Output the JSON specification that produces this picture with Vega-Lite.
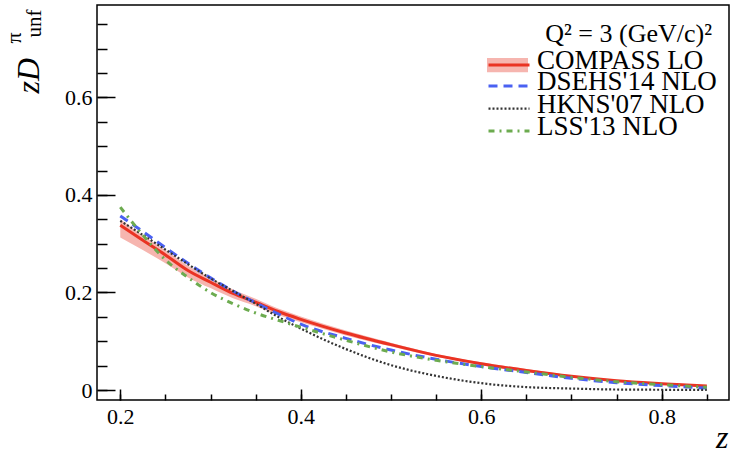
{
  "$schema": "https://vega.github.io/schema/vega-lite/v6.json",
  "width": 632,
  "height": 395,
  "autosize": "none",
  "padding": {"left": 97, "top": 5, "right": 10, "bottom": 57},
  "background": "white",
  "config": {
    "view": {"stroke": "black", "strokeWidth": 1.5},
    "font": "Liberation Serif, serif",
    "axis": {"grid": false, "domain": false, "tickColor": "black", "tickWidth": 1.5, "labelFont": "Liberation Serif, serif", "labelColor": "black", "labelFontSize": 22, "titleFont": "Liberation Serif, serif", "titleColor": "black", "titleFontWeight": "normal"},
    "legend": {"orient": "none", "legendX": 390, "title": null, "padding": 0, "clipHeight": 22, "symbolSize": 1681, "symbolStrokeWidth": 3, "labelFontSize": 27, "labelOffset": 6, "labelFont": "Liberation Serif, serif", "labelColor": "black", "labelLimit": 400}
  },
  "title": {"text": "Q² = 3 (GeV/c)²", "anchor": "end", "frame": "group", "orient": "top", "fontSize": 26, "font": "Liberation Serif, serif", "fontWeight": "normal", "color": "black", "baseline": "alphabetic", "offset": 0, "dx": -17, "dy": 63},
  "datasets": {
    "band": [
      {"z": 0.2, "lo": 0.313, "hi": 0.350},
      {"z": 0.225, "lo": 0.287, "hi": 0.317},
      {"z": 0.25, "lo": 0.260, "hi": 0.287},
      {"z": 0.275, "lo": 0.231, "hi": 0.255},
      {"z": 0.3, "lo": 0.209, "hi": 0.230},
      {"z": 0.325, "lo": 0.188, "hi": 0.206},
      {"z": 0.35, "lo": 0.172, "hi": 0.187},
      {"z": 0.375, "lo": 0.154, "hi": 0.167},
      {"z": 0.4, "lo": 0.139, "hi": 0.151},
      {"z": 0.45, "lo": 0.112, "hi": 0.122},
      {"z": 0.5, "lo": 0.089, "hi": 0.097},
      {"z": 0.55, "lo": 0.068, "hi": 0.074},
      {"z": 0.6, "lo": 0.051, "hi": 0.057},
      {"z": 0.65, "lo": 0.037, "hi": 0.043},
      {"z": 0.7, "lo": 0.026, "hi": 0.030},
      {"z": 0.75, "lo": 0.017, "hi": 0.021},
      {"z": 0.8, "lo": 0.011, "hi": 0.015},
      {"z": 0.85, "lo": 0.006, "hi": 0.010}
    ],
    "curves": [
      {"series": "COMPASS LO", "z": 0.2, "v": 0.338},
      {"series": "COMPASS LO", "z": 0.225, "v": 0.307},
      {"series": "COMPASS LO", "z": 0.25, "v": 0.277},
      {"series": "COMPASS LO", "z": 0.275, "v": 0.245},
      {"series": "COMPASS LO", "z": 0.3, "v": 0.221},
      {"series": "COMPASS LO", "z": 0.325, "v": 0.198},
      {"series": "COMPASS LO", "z": 0.35, "v": 0.180},
      {"series": "COMPASS LO", "z": 0.375, "v": 0.161},
      {"series": "COMPASS LO", "z": 0.4, "v": 0.145},
      {"series": "COMPASS LO", "z": 0.45, "v": 0.117},
      {"series": "COMPASS LO", "z": 0.5, "v": 0.093},
      {"series": "COMPASS LO", "z": 0.55, "v": 0.071},
      {"series": "COMPASS LO", "z": 0.6, "v": 0.054},
      {"series": "COMPASS LO", "z": 0.65, "v": 0.040},
      {"series": "COMPASS LO", "z": 0.7, "v": 0.028},
      {"series": "COMPASS LO", "z": 0.75, "v": 0.019},
      {"series": "COMPASS LO", "z": 0.8, "v": 0.013},
      {"series": "COMPASS LO", "z": 0.85, "v": 0.008},
      {"series": "DSEHS'14 NLO", "z": 0.2, "v": 0.357},
      {"series": "DSEHS'14 NLO", "z": 0.225, "v": 0.325},
      {"series": "DSEHS'14 NLO", "z": 0.25, "v": 0.292},
      {"series": "DSEHS'14 NLO", "z": 0.275, "v": 0.260},
      {"series": "DSEHS'14 NLO", "z": 0.3, "v": 0.230},
      {"series": "DSEHS'14 NLO", "z": 0.325, "v": 0.203},
      {"series": "DSEHS'14 NLO", "z": 0.35, "v": 0.179},
      {"series": "DSEHS'14 NLO", "z": 0.375, "v": 0.156},
      {"series": "DSEHS'14 NLO", "z": 0.4, "v": 0.135},
      {"series": "DSEHS'14 NLO", "z": 0.45, "v": 0.106},
      {"series": "DSEHS'14 NLO", "z": 0.5, "v": 0.082},
      {"series": "DSEHS'14 NLO", "z": 0.55, "v": 0.063},
      {"series": "DSEHS'14 NLO", "z": 0.6, "v": 0.048},
      {"series": "DSEHS'14 NLO", "z": 0.65, "v": 0.036},
      {"series": "DSEHS'14 NLO", "z": 0.7, "v": 0.024},
      {"series": "DSEHS'14 NLO", "z": 0.75, "v": 0.015},
      {"series": "DSEHS'14 NLO", "z": 0.8, "v": 0.009},
      {"series": "DSEHS'14 NLO", "z": 0.85, "v": 0.004},
      {"series": "HKNS'07 NLO", "z": 0.2, "v": 0.347},
      {"series": "HKNS'07 NLO", "z": 0.225, "v": 0.318},
      {"series": "HKNS'07 NLO", "z": 0.25, "v": 0.288},
      {"series": "HKNS'07 NLO", "z": 0.275, "v": 0.258},
      {"series": "HKNS'07 NLO", "z": 0.3, "v": 0.229},
      {"series": "HKNS'07 NLO", "z": 0.325, "v": 0.203},
      {"series": "HKNS'07 NLO", "z": 0.35, "v": 0.177},
      {"series": "HKNS'07 NLO", "z": 0.375, "v": 0.150},
      {"series": "HKNS'07 NLO", "z": 0.4, "v": 0.126},
      {"series": "HKNS'07 NLO", "z": 0.45, "v": 0.084},
      {"series": "HKNS'07 NLO", "z": 0.5, "v": 0.051},
      {"series": "HKNS'07 NLO", "z": 0.55, "v": 0.029},
      {"series": "HKNS'07 NLO", "z": 0.6, "v": 0.014},
      {"series": "HKNS'07 NLO", "z": 0.65, "v": 0.006},
      {"series": "HKNS'07 NLO", "z": 0.7, "v": 0.003},
      {"series": "HKNS'07 NLO", "z": 0.75, "v": 0.001},
      {"series": "HKNS'07 NLO", "z": 0.8, "v": 0.0005},
      {"series": "HKNS'07 NLO", "z": 0.85, "v": 0.0002},
      {"series": "LSS'13 NLO", "z": 0.2, "v": 0.375},
      {"series": "LSS'13 NLO", "z": 0.225, "v": 0.318},
      {"series": "LSS'13 NLO", "z": 0.25, "v": 0.267},
      {"series": "LSS'13 NLO", "z": 0.275, "v": 0.231},
      {"series": "LSS'13 NLO", "z": 0.3, "v": 0.200},
      {"series": "LSS'13 NLO", "z": 0.325, "v": 0.177},
      {"series": "LSS'13 NLO", "z": 0.35, "v": 0.158},
      {"series": "LSS'13 NLO", "z": 0.375, "v": 0.143},
      {"series": "LSS'13 NLO", "z": 0.4, "v": 0.129},
      {"series": "LSS'13 NLO", "z": 0.45, "v": 0.102},
      {"series": "LSS'13 NLO", "z": 0.5, "v": 0.078},
      {"series": "LSS'13 NLO", "z": 0.55, "v": 0.061},
      {"series": "LSS'13 NLO", "z": 0.6, "v": 0.048},
      {"series": "LSS'13 NLO", "z": 0.65, "v": 0.037},
      {"series": "LSS'13 NLO", "z": 0.7, "v": 0.026},
      {"series": "LSS'13 NLO", "z": 0.75, "v": 0.017},
      {"series": "LSS'13 NLO", "z": 0.8, "v": 0.011},
      {"series": "LSS'13 NLO", "z": 0.85, "v": 0.0055}
    ]
  },
  "layer": [
    {
      "data": {"name": "band"},
      "mark": {"type": "area", "interpolate": "monotone", "opacity": 1},
      "encoding": {
        "x": {"field": "z", "type": "quantitative", "scale": {"domain": [0.1742, 0.8746], "nice": false, "zero": false},
          "axis": {"orient": "bottom", "values": [0.2, 0.4, 0.6, 0.8], "format": ".1f", "tickSize": -11, "labelPadding": 17, "labelBaseline": "top",
            "title": "z", "titleFontSize": 32, "titleFontStyle": "italic", "titleAngle": 0, "titleAlign": "right", "titleBaseline": "alphabetic", "titleX": 631, "titleY": 47}},
        "y": {"field": "lo", "type": "quantitative", "scale": {"domain": [-0.0205, 0.7897], "nice": false, "zero": false},
          "axis": {"orient": "left", "values": [0, 0.2, 0.4, 0.6], "labelExpr": "datum.value == 0 ? '0' : format(datum.value, '.1f')", "tickSize": -18, "labelPadding": 23,
            "title": "zD", "titleFontSize": 32, "titleFontStyle": "italic", "titleAngle": 270, "titleAlign": "left", "titleBaseline": "alphabetic", "titleX": -59, "titleY": 88}},
        "y2": {"field": "hi"},
        "fill": {"datum": "COMPASS LO", "type": "nominal", "scale": {"domain": ["COMPASS LO"], "range": ["#f6b5af"]},
          "legend": {"legendY": 45, "symbolType": "M-1,-0.15H1V0.55H-1Z", "symbolStrokeWidth": 0, "labelExpr": "''"}}
      }
    },
    {
      "data": {"name": "curves"},
      "transform": [{"filter": {"field": "series", "equal": "COMPASS LO"}}],
      "mark": {"type": "line", "interpolate": "monotone", "strokeWidth": 3},
      "encoding": {
        "x": {"field": "z", "type": "quantitative", "scale": {"domain": [0.1742, 0.8746], "nice": false, "zero": false},
          "axis": {"orient": "bottom", "values": [0.2, 0.25, 0.3, 0.35, 0.4, 0.45, 0.5, 0.55, 0.6, 0.65, 0.7, 0.75, 0.8, 0.85], "labels": false, "tickSize": -6,
            "title": "unf", "titleFontSize": 21, "titleAngle": 270, "titleAlign": "left", "titleBaseline": "alphabetic", "titleX": -57, "titleY": -363}},
        "y": {"field": "v", "type": "quantitative", "scale": {"domain": [-0.0205, 0.7897], "nice": false, "zero": false},
          "axis": {"orient": "left", "values": [0, 0.05, 0.1, 0.15, 0.2, 0.25, 0.3, 0.35, 0.4, 0.45, 0.5, 0.55, 0.6, 0.65, 0.7, 0.75], "labels": false, "tickSize": -10,
            "title": "π", "titleFontSize": 22, "titleAngle": 270, "titleAlign": "left", "titleBaseline": "alphabetic", "titleX": -77, "titleY": 38}},
        "stroke": {"datum": "COMPASS LO", "type": "nominal", "scale": {"domain": ["COMPASS LO"], "range": ["#ea3323"]},
          "legend": {"legendY": 45, "symbolType": "M-1,0.2H1", "symbolStrokeWidth": 3}}
      }
    },
    {
      "data": {"name": "curves"},
      "transform": [{"filter": {"field": "series", "equal": "DSEHS'14 NLO"}}],
      "mark": {"type": "line", "interpolate": "monotone", "strokeWidth": 3, "strokeDash": [9, 6]},
      "encoding": {
        "x": {"field": "z", "type": "quantitative", "scale": {"domain": [0.1742, 0.8746], "nice": false, "zero": false}, "axis": null},
        "y": {"field": "v", "type": "quantitative", "scale": {"domain": [-0.0205, 0.7897], "nice": false, "zero": false}, "axis": null},
        "stroke": {"datum": "DSEHS'14 NLO", "type": "nominal", "scale": {"domain": ["DSEHS'14 NLO"], "range": ["#4a61f2"]},
          "legend": {"legendY": 66, "symbolType": "M-1,0.2H1", "symbolStrokeWidth": 3, "symbolDash": [9, 6]}}
      }
    },
    {
      "data": {"name": "curves"},
      "transform": [{"filter": {"field": "series", "equal": "HKNS'07 NLO"}}],
      "mark": {"type": "line", "interpolate": "monotone", "strokeWidth": 2.2, "strokeDash": [2, 2]},
      "encoding": {
        "x": {"field": "z", "type": "quantitative", "scale": {"domain": [0.1742, 0.8746], "nice": false, "zero": false}, "axis": null},
        "y": {"field": "v", "type": "quantitative", "scale": {"domain": [-0.0205, 0.7897], "nice": false, "zero": false}, "axis": null},
        "stroke": {"datum": "HKNS'07 NLO", "type": "nominal", "scale": {"domain": ["HKNS'07 NLO"], "range": ["#333333"]},
          "legend": {"legendY": 88.5, "symbolType": "M-1,0.2H1", "symbolStrokeWidth": 2.2, "symbolDash": [2, 2]}}
      }
    },
    {
      "data": {"name": "curves"},
      "transform": [{"filter": {"field": "series", "equal": "LSS'13 NLO"}}],
      "mark": {"type": "line", "interpolate": "monotone", "strokeWidth": 3, "strokeDash": [6, 5, 2, 5]},
      "encoding": {
        "x": {"field": "z", "type": "quantitative", "scale": {"domain": [0.1742, 0.8746], "nice": false, "zero": false}, "axis": null},
        "y": {"field": "v", "type": "quantitative", "scale": {"domain": [-0.0205, 0.7897], "nice": false, "zero": false}, "axis": null},
        "stroke": {"datum": "LSS'13 NLO", "type": "nominal", "scale": {"domain": ["LSS'13 NLO"], "range": ["#6cab4f"]},
          "legend": {"legendY": 111, "symbolType": "M-1,0.2H1", "symbolStrokeWidth": 3, "symbolDash": [6, 5, 2, 5]}}
      }
    }
  ],
  "resolve": {"axis": {"x": "independent", "y": "independent"}, "scale": {"stroke": "independent"}, "legend": {"stroke": "independent"}}
}
